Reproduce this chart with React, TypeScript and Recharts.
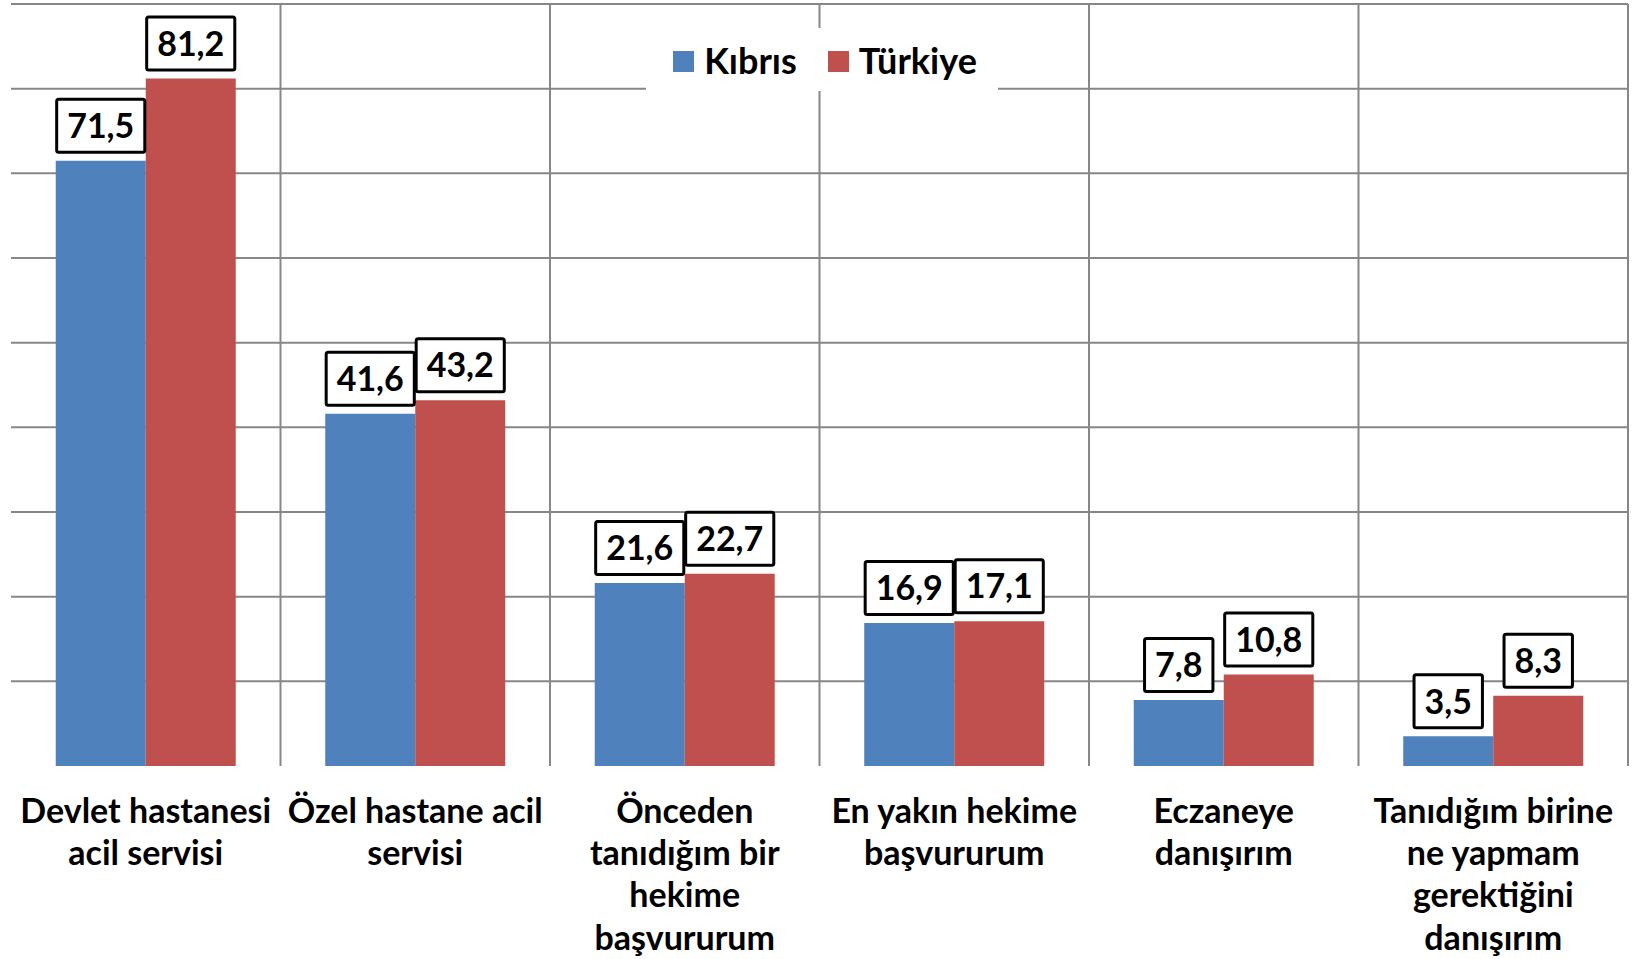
import React from "react";
import { BarChart, Bar, XAxis, YAxis, CartesianGrid, Legend, LabelList, ReferenceLine } from "recharts";

const categories = [
  "Devlet hastanesi\nacil servisi",
  "Özel hastane acil\nservisi",
  "Önceden\ntanıdığım bir\nhekime\nbaşvururum",
  "En yakın hekime\nbaşvururum",
  "Eczaneye\ndanışırım",
  "Tanıdığım birine\nne yapmam\ngerektiğini\ndanışırım",
];
const kibris = [71.5, 41.6, 21.6, 16.9, 7.8, 3.5];
const turkiye = [81.2, 43.2, 22.7, 17.1, 10.8, 8.3];
const seriesNames = ["Kıbrıs", "Türkiye"];
const yTicks = [0, 10, 20, 30, 40, 50, 60, 70, 80, 90];
const yGridValues = [10, 20, 30, 40, 50, 60, 70, 80, 90];

const data = categories.map((name, i) => ({ name, kibris: kibris[i], turkiye: turkiye[i] }));

const FONT = "Lato, 'Noto Sans', sans-serif";
const BLUE = "#4F81BD";
const RED = "#C0504D";
const GRID = "#878787";

const LABEL_FS = 34;
let canvasCtx: CanvasRenderingContext2D | null = null;
function measure(text: string, fs: number) {
  if (!canvasCtx) canvasCtx = document.createElement("canvas").getContext("2d");
  if (!canvasCtx) return text.length * fs * 0.55;
  canvasCtx.font = `bold ${fs}px Lato`;
  return canvasCtx.measureText(text).width;
}
const fmt = (v: number) => String(v).replace(".", ",");

const LabelBox = (props: any) => {
  const { x, y, width, value } = props;
  const text = fmt(Number(value));
  const w = measure(text, LABEL_FS) + 21;
  const h = 53;
  const cx = Number(x) + Number(width) / 2;
  const bottom = Number(y) - 8.5;
  const top = bottom - h;
  return (
    <g>
      <rect x={cx - w / 2} y={top} width={w} height={h} rx={2} fill="#fff" stroke="#000" strokeWidth={3} />
      <text x={cx} y={top + h / 2 + LABEL_FS * 0.36} textAnchor="middle" fontFamily={FONT} fontWeight={700} fontSize={LABEL_FS} fill="#000">
        {text}
      </text>
    </g>
  );
};

const CategoryTick = (props: any) => {
  const { x, y, payload } = props;
  const lines = String(payload.value).split("\n");
  return (
    <text x={x} y={y} textAnchor="middle" fontFamily={FONT} fontWeight={700} fontSize={34} fill="#000">
      {lines.map((l, i) => (
        <tspan key={i} x={x} dy={i === 0 ? 57 : 42.2}>
          {l}
        </tspan>
      ))}
    </text>
  );
};

const LegendContent = (props: any) => {
  const payload = props.payload || [];
  return (
    <div
      style={{
        display: "flex",
        alignItems: "center",
        justifyContent: "center",
        boxSizing: "border-box",
        paddingLeft: 6,
        width: "100%",
        height: "100%",
        background: "#fff",
        fontFamily: FONT,
        fontWeight: 700,
        fontSize: 36,
        color: "#000",
      }}
    >
      {payload.map((p: any, i: number) => (
        <div key={i} style={{ display: "flex", alignItems: "center", marginLeft: i === 0 ? 0 : 31 }}>
          <div style={{ width: 21, height: 21, background: p.color, marginRight: 10, marginTop: 4 }} />
          <span style={{ lineHeight: "36px" }}>{p.value}</span>
        </div>
      ))}
    </div>
  );
};

export default function App() {
  return (
    <div style={{ position: "absolute", left: 0, top: 0, width: 1637, height: 959, background: "#fff" }}>
      <BarChart
        width={1637}
        height={959}
        data={data}
        margin={{ top: 4, right: 9, left: 11, bottom: 0 }}
        barCategoryGap="16.6%"
        barGap={0}
      >
        <CartesianGrid
          stroke={GRID}
          strokeWidth={2}
          vertical={false}
          horizontalValues={yGridValues}
          syncWithTicks
        />
        <XAxis
          dataKey="name"
          type="category"
          height={193}
          axisLine={false}
          tickLine={false}
          tickSize={0}
          tickMargin={0}
          interval={0}
          tick={<CategoryTick />}
        />
        <YAxis hide domain={[0, 90]} ticks={yTicks} allowDataOverflow />
        {categories.map((c) => (
          <ReferenceLine key={c} x={c} position="end" stroke={GRID} strokeWidth={2} ifOverflow="extendDomain" />
        ))}
        <Legend
          layout="horizontal"
          verticalAlign="middle"
          align="center"
          wrapperStyle={{ top: 28, left: 646, width: 352, height: 63 }}
          content={<LegendContent />}
        />
        <Bar dataKey="kibris" name={seriesNames[0]} fill={BLUE} isAnimationActive={false}>
          <LabelList dataKey="kibris" content={<LabelBox />} />
        </Bar>
        <Bar dataKey="turkiye" name={seriesNames[1]} fill={RED} isAnimationActive={false}>
          <LabelList dataKey="turkiye" content={<LabelBox />} />
        </Bar>
      </BarChart>
    </div>
  );
}
